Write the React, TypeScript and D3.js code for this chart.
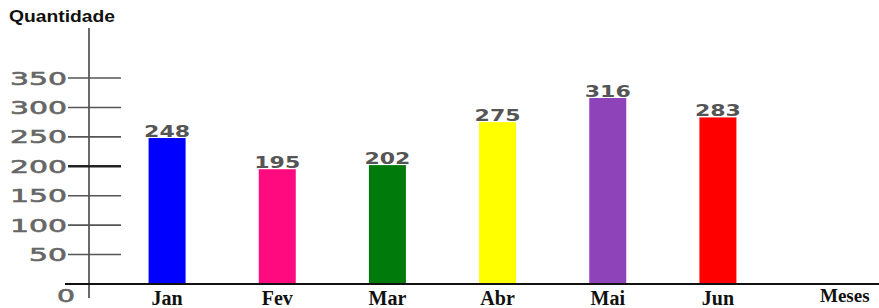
// App.tsx
import React from 'react';
import * as d3 from 'd3';

const months = ['Jan', 'Fev', 'Mar', 'Abr', 'Mai', 'Jun'];
const values = [248, 195, 202, 275, 316, 283];
const barColors = ['#0000ff', '#ff0a7f', '#007a0a', '#ffff00', '#8e44b8', '#ff0000'];
const yTicks = [50, 100, 150, 200, 250, 300, 350];

const W = 879;
const H = 308;

const App = () => {
  // scales
  const x = d3.scaleBand<string>().domain(months).range([112, 773]).paddingInner(0.664).paddingOuter(0.332);
  const y = d3.scaleLinear().domain([0, 350]).range([284, 78]);
  const bw = 37;

  return (
    <svg width={W} height={H} style={{ position: 'absolute', left: 0, top: 0, background: 'white' }}>
      {/* title of the y axis */}
      <text
        x={9}
        y={22}
        fontFamily="Liberation Sans, Arial, sans-serif"
        fontWeight="bold"
        fontSize={17}
        fill="#111"
        textLength={106}
        lengthAdjust="spacingAndGlyphs"
      >
        Quantidade
      </text>

      {/* y axis */}
      <line x1={89} x2={89} y1={28} y2={298} stroke="#444" strokeWidth={1.6} />

      {yTicks.map((t) => (
        <g key={t}>
          <line
            x1={68}
            x2={121}
            y1={y(t)}
            y2={y(t)}
            stroke={t === 200 ? '#222' : '#555'}
            strokeWidth={t === 200 ? 2.6 : 1.6}
          />
          <text
            x={10}
            y={y(t) + 6.5}
            fontFamily="DejaVu Sans, sans-serif"
            fontSize={18}
            fill="#666"
            stroke="#666"
            strokeWidth={0.6}
            textLength={t < 100 ? 38 : 57}
            lengthAdjust="spacingAndGlyphs"
            dx={t < 100 ? 19 : 0}
          >
            {t}
          </text>
        </g>
      ))}
      <text
        x={57}
        y={y(0) + 18}
        fontFamily="DejaVu Sans, sans-serif"
        fontSize={18}
        fill="#666"
        stroke="#666"
        strokeWidth={0.6}
        textLength={18}
        lengthAdjust="spacingAndGlyphs"
      >
        0
      </text>

      {/* bars */}
      {months.map((m, i) => {
        const cx = (x(m) as number) + x.bandwidth() / 2;
        return (
          <g key={m}>
            <rect x={cx - bw / 2} y={y(values[i])} width={bw} height={y(0) - y(values[i])} fill={barColors[i]} />
            <text
              x={cx - 23}
              y={y(values[i]) - 1}
              fontFamily="DejaVu Sans, sans-serif"
              fontWeight="bold"
              fontSize={16}
              fill="#555"
              textLength={46}
              lengthAdjust="spacingAndGlyphs"
            >
              {values[i]}
            </text>
            <text
              x={cx}
              y={305}
              textAnchor="middle"
              fontFamily="Liberation Serif, Times New Roman, serif"
              fontWeight="bold"
              fontSize={20}
              fill="#111"
            >
              {m}
            </text>
          </g>
        );
      })}

      {/* x axis */}
      <line x1={65} x2={W} y1={y(0)} y2={y(0)} stroke="#111" strokeWidth={2.2} />
      <text x={820} y={302} fontFamily="Liberation Serif, Times New Roman, serif" fontWeight="bold" fontSize={19} fill="#111">
        Meses
      </text>
    </svg>
  );
};

export default App;
